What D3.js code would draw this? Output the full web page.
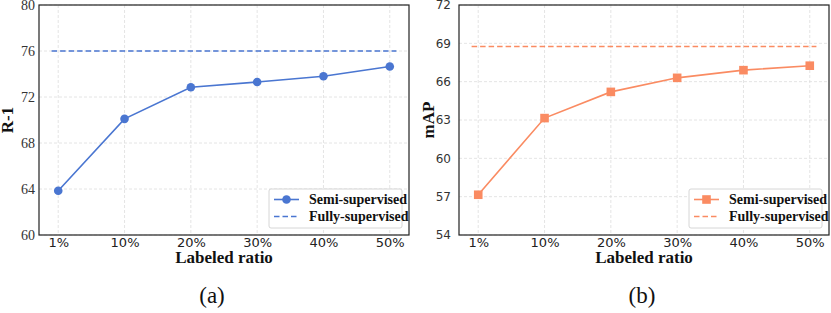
<!DOCTYPE html>
<html>
<head>
<meta charset="utf-8">
<script src="https://cdn.jsdelivr.net/npm/d3@7"></script>
<style>
  body { margin: 0; background: #fff; }
  svg { display: block; }
  .grid line { stroke: #ddd; stroke-dasharray: 3,2; stroke-width: 0.8; }
</style>
</head>
<body>
<div id="chart"></div>
<script>
'use strict';

// Data
const ratios = ['1%', '10%', '20%', '30%', '40%', '50%'];
const r1Semi = [63.85, 70.1, 72.85, 73.3, 73.8, 74.65];
const r1Full = 76.0;
const mapSemi = [57.15, 63.15, 65.2, 66.3, 66.9, 67.25];
const mapFull = 68.75;
const r1Ticks = [60, 64, 68, 72, 76, 80];
const mapTicks = [54, 57, 60, 63, 66, 69, 72];

const W = 831, H = 313;
const svg = d3.select('#chart').append('svg')
  .attr('width', W)
  .attr('height', H);

function drawPanel(opts) {
  const left = opts.left, top = 5, width = 370, height = 230;
  const g = svg.append('g').attr('transform', 'translate(' + left + ',' + top + ')');

  const x = d3.scalePoint().domain(d3.range(ratios.length))
    .range([0, width]).padding(0.29);
  const step = x.step();
  const y = d3.scaleLinear().domain(opts.domain).range([height, 0]);

  // grid
  g.append('g').attr('class', 'grid')
    .selectAll('line.v').data(d3.range(ratios.length)).enter().append('line')
    .attr('x1', d => x(d)).attr('x2', d => x(d))
    .attr('y1', 0).attr('y2', height);
  g.append('g').attr('class', 'grid')
    .selectAll('line.h').data(opts.ticks).enter().append('line')
    .attr('x1', 0).attr('x2', width)
    .attr('y1', d => y(d)).attr('y2', d => y(d));

  // axes
  const ax = g.append('g')
    .attr('transform', 'translate(0,' + height + ')')
    .call(d3.axisBottom(x).tickFormat(i => ratios[i]).tickSize(0).tickPadding(3));
  ax.select('.domain').remove();
  ax.selectAll('text')
    .attr('font-family', 'DejaVu Sans')
    .attr('font-size', 13)
    .attr('fill', '#222');

  const ay = g.append('g')
    .call(d3.axisLeft(y).tickValues(opts.ticks).tickSize(0).tickPadding(opts.yPad));
  ay.select('.domain').remove();
  ay.selectAll('text')
    .attr('font-family', opts.yFont)
    .attr('font-size', opts.yFontSize)
    .attr('fill', '#333');

  // frame
  g.append('rect')
    .attr('width', width).attr('height', height)
    .attr('fill', 'none').attr('stroke', '#222').attr('stroke-width', 1.2);

  // fully-supervised reference
  g.append('line')
    .attr('x1', x(0) - 0.1 * step).attr('x2', x(ratios.length - 1) + 0.1 * step)
    .attr('y1', y(opts.full)).attr('y2', y(opts.full))
    .attr('stroke', opts.color).attr('stroke-width', 1.6)
    .attr('stroke-dasharray', '5.5,3');

  // semi-supervised
  const line = d3.line().x((d, i) => x(i)).y(d => y(d));
  g.append('path').datum(opts.semi)
    .attr('d', line)
    .attr('fill', 'none').attr('stroke', opts.color).attr('stroke-width', 1.6);

  if (opts.marker === 'circle') {
    g.selectAll('.pt').data(opts.semi).enter().append('circle')
      .attr('cx', (d, i) => x(i)).attr('cy', d => y(d))
      .attr('r', 4.3).attr('fill', opts.color);
  } else {
    g.selectAll('.pt').data(opts.semi).enter().append('rect')
      .attr('x', (d, i) => x(i) - 4.3).attr('y', d => y(d) - 4.3)
      .attr('width', 8.6).attr('height', 8.6).attr('fill', opts.color);
  }

  // axis titles
  g.append('text')
    .attr('x', width / 2).attr('y', height + 28)
    .attr('text-anchor', 'middle')
    .attr('font-family', 'Liberation Serif').attr('font-weight', 'bold')
    .attr('font-size', 17).attr('fill', '#111')
    .text('Labeled ratio');
  g.append('text')
    .attr('transform', 'translate(' + opts.yTitleX + ',' + height / 2 + ') rotate(-90)')
    .attr('text-anchor', 'middle')
    .attr('font-family', 'Liberation Serif').attr('font-weight', 'bold')
    .attr('font-size', 17).attr('fill', '#111')
    .text(opts.yTitle);

  // legend
  const lg = g.append('g').attr('transform', 'translate(' + (width - 140) + ',' + (height - 46) + ')');
  lg.append('rect')
    .attr('width', 133).attr('height', 39).attr('rx', 2)
    .attr('fill', '#fff').attr('stroke', '#ccc').attr('stroke-width', 0.8);
  const rows = [{ label: 'Semi-supervised', dash: null }, { label: 'Fully-supervised', dash: '5.5,3' }];
  rows.forEach((r, i) => {
    const ry = 10.5 + i * 17;
    lg.append('line')
      .attr('x1', 5).attr('x2', 30).attr('y1', ry).attr('y2', ry)
      .attr('stroke', opts.color).attr('stroke-width', 1.6)
      .attr('stroke-dasharray', r.dash);
    if (i === 0) {
      if (opts.marker === 'circle') {
        lg.append('circle').attr('cx', 17.5).attr('cy', ry).attr('r', 4.3).attr('fill', opts.color);
      } else {
        lg.append('rect').attr('x', 13.2).attr('y', ry - 4.3)
          .attr('width', 8.6).attr('height', 8.6).attr('fill', opts.color);
      }
    }
    lg.append('text')
      .attr('x', 40).attr('y', ry).attr('dy', '0.35em')
      .attr('font-family', 'Liberation Serif').attr('font-weight', 'bold')
      .attr('font-size', 14).attr('fill', '#111')
      .text(r.label);
  });

  // panel caption
  svg.append('text')
    .attr('x', opts.captionX).attr('y', 303)
    .attr('text-anchor', 'middle')
    .attr('font-family', 'Liberation Serif')
    .attr('font-size', 23).attr('fill', '#111')
    .text(opts.caption);
}

drawPanel({
  left: 39, domain: [60, 80], ticks: r1Ticks, semi: r1Semi, full: r1Full,
  color: '#4a76d1', marker: 'circle', yTitle: 'R-1', yTitleX: -26,
  yFont: 'Liberation Serif', yFontSize: 14, yPad: 4,
  caption: '(a)', captionX: 212
});

drawPanel({
  left: 459, domain: [54, 72], ticks: mapTicks, semi: mapSemi, full: mapFull,
  color: '#fa8b62', marker: 'square', yTitle: 'mAP', yTitleX: -25,
  yFont: 'DejaVu Sans', yFontSize: 12, yPad: 8,
  caption: '(b)', captionX: 642
});
</script>
</body>
</html>
